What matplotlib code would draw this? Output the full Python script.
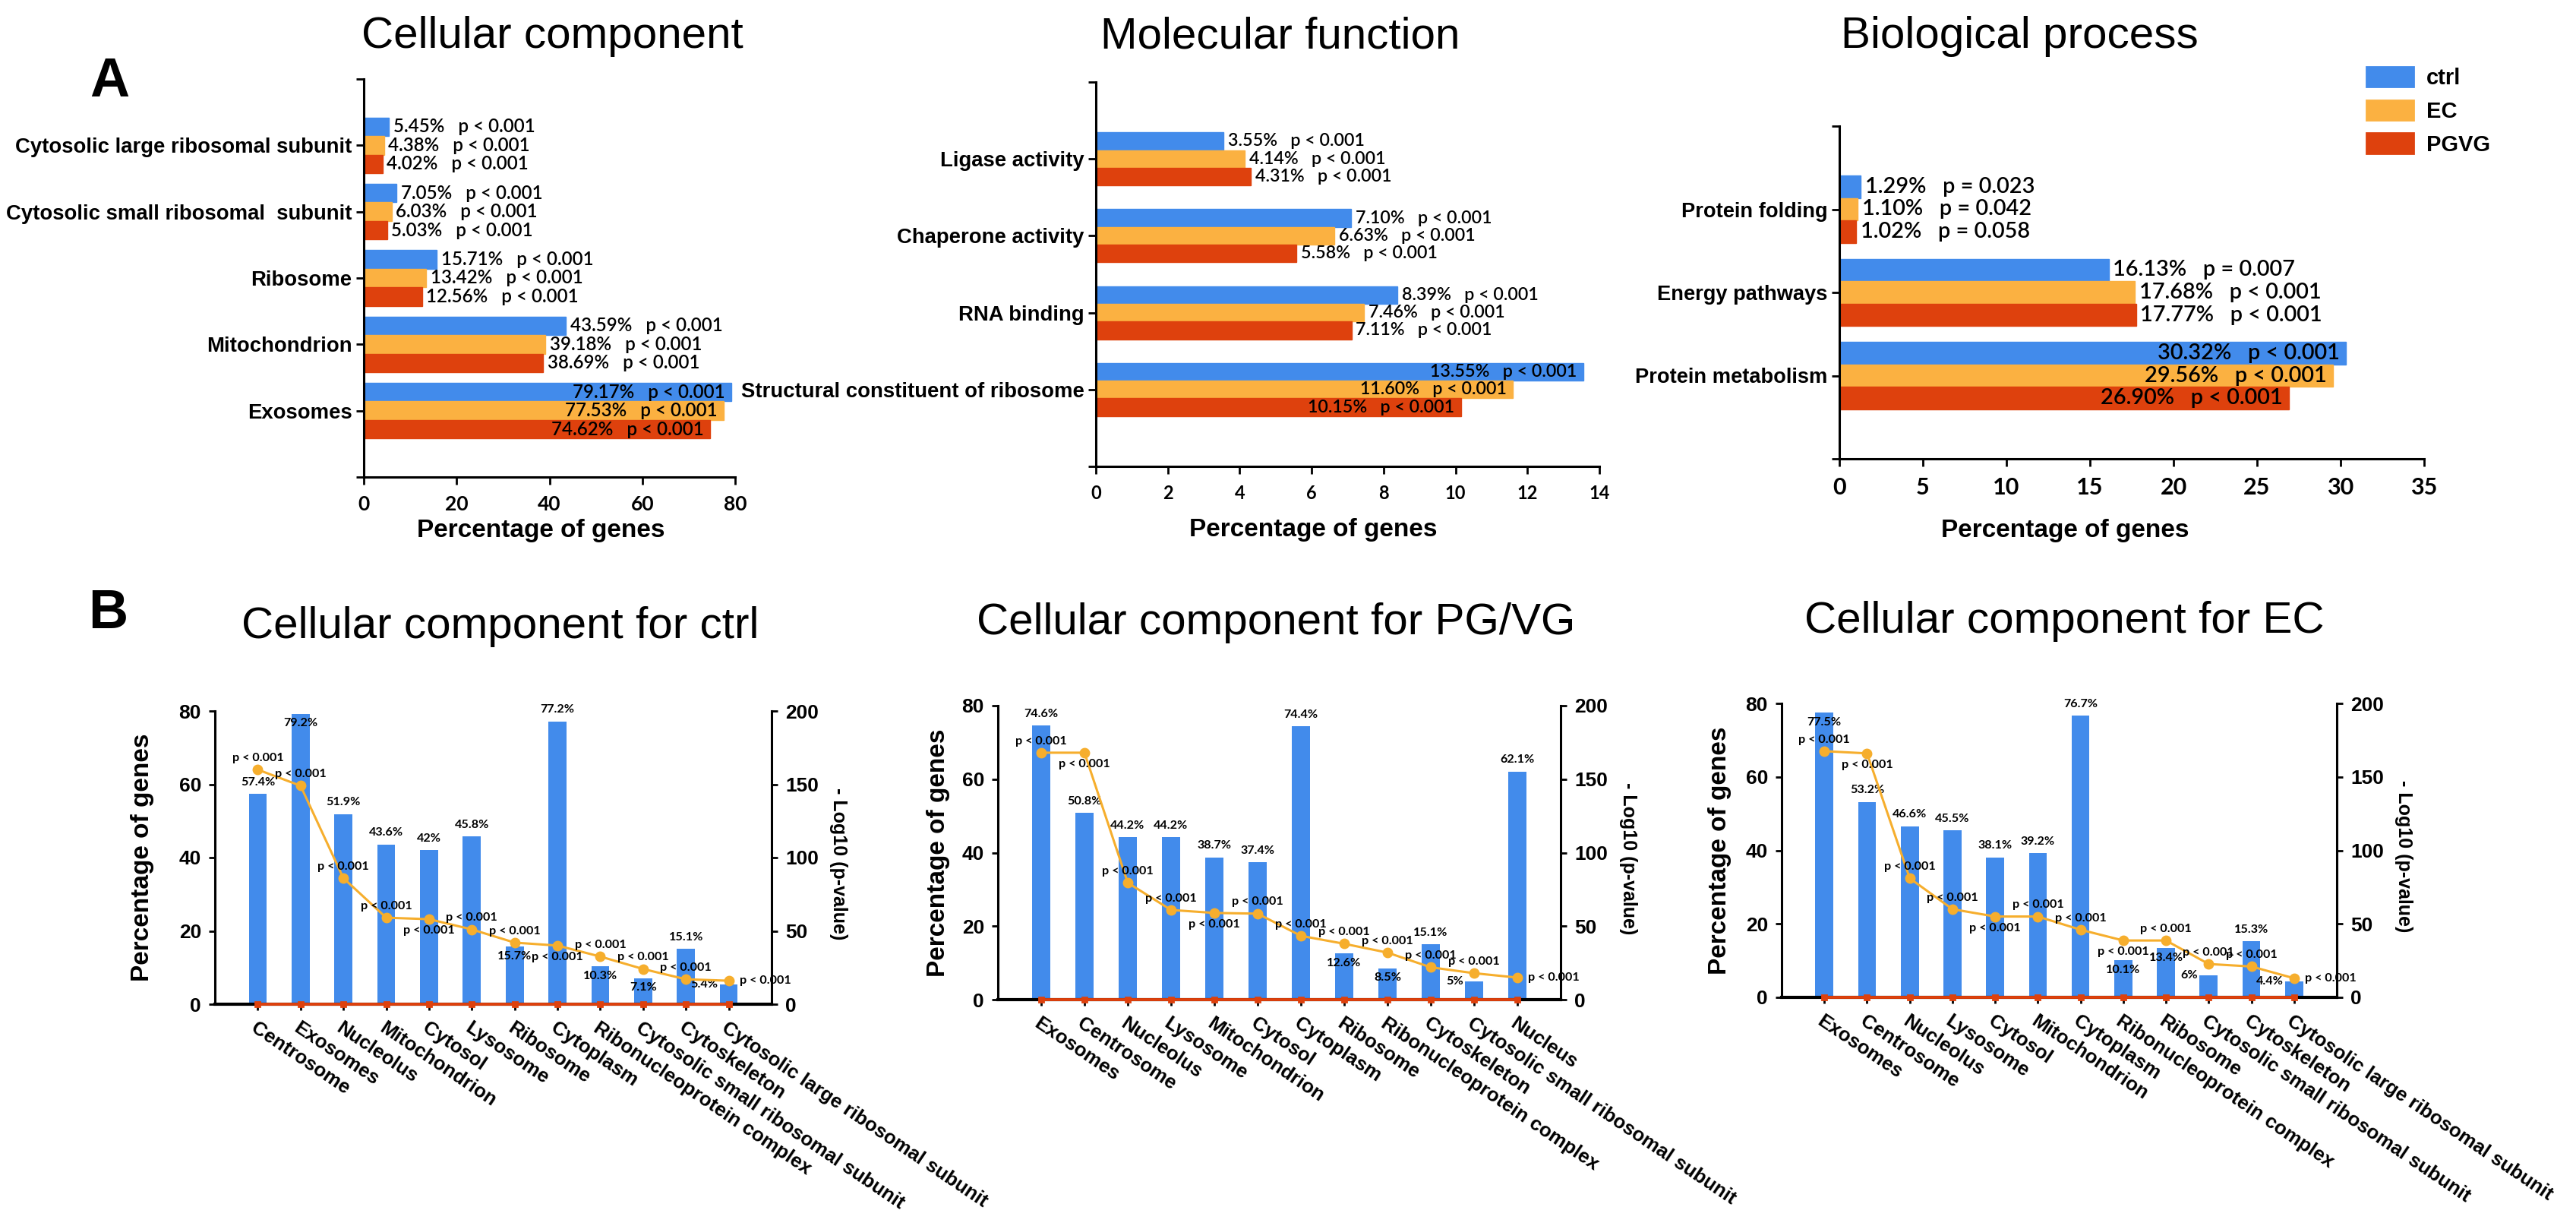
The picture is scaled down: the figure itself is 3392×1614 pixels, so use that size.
import numpy as np
import matplotlib.pyplot as plt
from matplotlib.patches import Patch

plt.rcParams['font.family'] = ['Liberation Sans', 'DejaVu Sans']

W, H = 3392, 1614
DPI = 200

C_CTRL = '#428BEB'
C_EC = '#FBB141'
C_PGVG = '#DE410D'
C_LINE = '#F6AE2D'

# ---------------- A: GO terms for the three groups ----------------
group_names = ['ctrl', 'EC', 'PGVG']

cc_terms = ['Cytosolic large ribosomal subunit', 'Cytosolic small ribosomal  subunit',
            'Ribosome', 'Mitochondrion', 'Exosomes']
cc_ctrl = [5.45, 7.05, 15.71, 43.59, 79.17]
cc_ec = [4.38, 6.03, 13.42, 39.18, 77.53]
cc_pgvg = [4.02, 5.03, 12.56, 38.69, 74.62]
cc_p_ctrl = ['< 0.001', '< 0.001', '< 0.001', '< 0.001', '< 0.001']
cc_p_ec = ['< 0.001', '< 0.001', '< 0.001', '< 0.001', '< 0.001']
cc_p_pgvg = ['< 0.001', '< 0.001', '< 0.001', '< 0.001', '< 0.001']

mf_terms = ['Ligase activity', 'Chaperone activity', 'RNA binding',
            'Structural constituent of ribosome']
mf_ctrl = [3.55, 7.10, 8.39, 13.55]
mf_ec = [4.14, 6.63, 7.46, 11.60]
mf_pgvg = [4.31, 5.58, 7.11, 10.15]
mf_p_ctrl = ['< 0.001', '< 0.001', '< 0.001', '< 0.001']
mf_p_ec = ['< 0.001', '< 0.001', '< 0.001', '< 0.001']
mf_p_pgvg = ['< 0.001', '< 0.001', '< 0.001', '< 0.001']

bp_terms = ['Protein folding', 'Energy pathways', 'Protein metabolism']
bp_ctrl = [1.29, 16.13, 30.32]
bp_ec = [1.10, 17.68, 29.56]
bp_pgvg = [1.02, 17.77, 26.90]
bp_p_ctrl = ['= 0.023', '= 0.007', '< 0.001']
bp_p_ec = ['= 0.042', '< 0.001', '< 0.001']
bp_p_pgvg = ['= 0.058', '< 0.001', '< 0.001']

# ---------------- B: cellular component per group ----------------
ctrl_terms = ['Centrosome', 'Exosomes', 'Nucleolus', 'Mitochondrion', 'Cytosol', 'Lysosome',
              'Ribosome', 'Cytoplasm', 'Ribonucleoprotein complex',
              'Cytosolic small ribosomal subunit', 'Cytoskeleton',
              'Cytosolic large ribosomal subunit']
ctrl_pct = [57.4, 79.2, 51.9, 43.6, 42, 45.8, 15.7, 77.2, 10.3, 7.1, 15.1, 5.4]
ctrl_logp = [160, 149, 86, 59, 58, 51, 42, 40, 32.5, 24, 17, 16]
ctrl_pval = [0.001, 0.001, 0.001, 0.001, 0.001, 0.001, 0.001, 0.001, 0.001, 0.001, 0.001, 0.001]

pgvg_terms = ['Exosomes', 'Centrosome', 'Nucleolus', 'Lysosome', 'Mitochondrion', 'Cytosol',
              'Cytoplasm', 'Ribosome', 'Ribonucleoprotein complex', 'Cytoskeleton',
              'Cytosolic small ribosomal subunit', 'Nucleus']
pgvg_pct = [74.6, 50.8, 44.2, 44.2, 38.7, 37.4, 74.4, 12.6, 8.5, 15.1, 5, 62.1]
pgvg_logp = [168, 168, 79.5, 61, 59, 58.5, 43.4, 38, 32, 22, 18, 15]
pgvg_pval = [0.001, 0.001, 0.001, 0.001, 0.001, 0.001, 0.001, 0.001, 0.001, 0.001, 0.001, 0.001]

ec_terms = ['Exosomes', 'Centrosome', 'Nucleolus', 'Lysosome', 'Cytosol', 'Mitochondrion',
            'Cytoplasm', 'Ribonucleoprotein complex', 'Ribosome',
            'Cytosolic small ribosomal subunit', 'Cytoskeleton',
            'Cytosolic large ribosomal subunit']
ec_pct = [77.5, 53.2, 46.6, 45.5, 38.1, 39.2, 76.7, 10.1, 13.4, 6, 15.3, 4.4]
ec_logp = [167.5, 166, 81, 60, 55, 55, 46, 38.7, 38.7, 22.7, 21, 13]
ec_pval = [0.001, 0.001, 0.001, 0.001, 0.001, 0.001, 0.001, 0.001, 0.001, 0.001, 0.001, 0.001]

# where the small labels sit (styling only)
ctrl_pct_pos = ['above', 'inside', 'above', 'above', 'above', 'above',
                'inside', 'above', 'inside', 'inside', 'above', 'left']
ctrl_p_pos = ['above', 'above', 'above', 'above', 'below', 'above',
              'above', 'below', 'above', 'above', 'above', 'right']
pgvg_pct_pos = ['above', 'above', 'above', 'above', 'above', 'above',
                'above', 'inside', 'inside', 'above', 'left', 'above']
pgvg_p_pos = ['above', 'below', 'above', 'above', 'below', 'above',
              'above', 'above', 'above', 'above', 'above', 'right']
ec_pct_pos = ['inside', 'above', 'above', 'above', 'above', 'above',
              'above', 'inside', 'inside', 'left', 'above', 'left']
ec_p_pos = ['above', 'below', 'above', 'above', 'below', 'above',
            'above', 'below', 'above', 'above', 'above', 'right']

fig = plt.figure(figsize=(W / DPI, H / DPI), dpi=DPI)


def px_axes(left, top, right, bottom):
    return fig.add_axes([left / W, 1 - bottom / H, (right - left) / W, (bottom - top) / H])


def fig_text(x, y, s, **kw):
    fig.text(x / W, 1 - y / H, s, **kw)


def hbar_panel(ax, terms, vals, pvals, xmax, step, bar_h, xlab_xy, fs_val, fs_term, fs_tick):
    n = len(terms)
    ypos = np.arange(n)[::-1]
    colors = [C_CTRL, C_EC, C_PGVG]
    for k, (v, p, c) in enumerate(zip(vals, pvals, colors)):
        yy = ypos + (1 - k) * bar_h
        ax.barh(yy, v, height=bar_h, color=c, edgecolor=c, linewidth=0.5)
        for y, val, pv in zip(yy, v, p):
            s = f'{val:.2f}%   p {pv}'
            if val > 0.7 * xmax:
                ax.annotate(s, (val, y), xytext=(-3, 0), textcoords='offset points',
                            ha='right', va='center', fontsize=fs_val, fontweight='semibold',
                            family=['Lato', 'DejaVu Sans'])
            else:
                ax.annotate(s, (val, y), xytext=(2, 0), textcoords='offset points',
                            ha='left', va='center', fontsize=fs_val, fontweight='semibold',
                            family=['Lato', 'DejaVu Sans'])
    ax.set_ylim(-1, n)
    ax.set_xlim(0, xmax)
    ax.set_xticks(np.arange(0, xmax + 0.01, step))
    ax.set_yticks(ypos)
    ax.set_yticklabels(terms, fontweight='bold', fontsize=fs_term)
    ax.set_yticks([-1, n], minor=True)
    for sp in ['top', 'right']:
        ax.spines[sp].set_visible(False)
    for sp in ['left', 'bottom']:
        ax.spines[sp].set_linewidth(1.1)
    ax.tick_params(axis='y', which='both', length=3.5, width=1, pad=2)
    ax.tick_params(axis='x', length=3.5, width=1, pad=5, labelsize=fs_tick)
    for t in ax.get_xticklabels():
        t.set_fontweight('bold')
        t.set_family(['Lato', 'DejaVu Sans'])
    ax.set_xlabel('Percentage of genes', fontsize=12, fontweight='bold')
    ax.xaxis.set_label_coords(*xlab_xy)
    ax.xaxis.label.set_va('center')


def place(ax, x, y, s, mode):
    if mode == 'above':
        off, ha, va = (0, 3), 'center', 'bottom'
    elif mode == 'below':
        off, ha, va = (0, -3), 'center', 'top'
    elif mode == 'inside':
        off, ha, va = (0, -2), 'center', 'top'
    elif mode == 'left':
        off, ha, va = (-5, 0), 'right', 'center'
    else:
        off, ha, va = (5, 0), 'left', 'center'
    ax.annotate(s, (x, y), xytext=off, textcoords='offset points', ha=ha, va=va,
                fontsize=5.8, fontweight='bold', family=['Lato', 'DejaVu Sans'], zorder=6)


def cc_panel(ax, terms, pct, logp, pval, pct_pos, p_pos, ylab_x):
    x = np.arange(len(terms))
    ax.bar(x, pct, width=0.42, color=C_CTRL, zorder=2)
    ax.plot(x, pval, color=C_PGVG, lw=1.4, marker='s', ms=2.5, zorder=4, clip_on=False)
    ax.set_xlim(-1, len(terms))
    ax.set_ylim(0, 80)
    ax.set_yticks([0, 20, 40, 60, 80])
    ax.set_xticks(x)
    ax.set_xticklabels(terms, rotation=-34, ha='left', rotation_mode='anchor',
                       fontweight='bold', fontsize=9.3)
    ax.tick_params(axis='x', length=3, width=1, pad=4)
    ax.tick_params(axis='y', length=3, width=1, labelsize=9.5)
    for t in ax.get_yticklabels():
        t.set_fontweight('bold')
    ax.spines['top'].set_visible(False)
    ax.spines['right'].set_visible(False)
    ax.spines['left'].set_linewidth(1.1)
    ax.spines['bottom'].set_linewidth(1.5)
    ax.set_ylabel('Percentage of genes', fontsize=12, fontweight='bold')
    ax.yaxis.set_label_coords(ylab_x, 0.5)
    for xi, v, m in zip(x, pct, pct_pos):
        place(ax, xi, v, f'{v:g}%', m)

    ax2 = ax.twinx()
    ax2.plot(x, logp, color=C_LINE, lw=1.1, marker='o', ms=4, zorder=5)
    ax2.set_ylim(0, 200)
    ax2.set_yticks([0, 50, 100, 150, 200])
    ax2.tick_params(axis='y', length=3, width=1, labelsize=9.5)
    for t in ax2.get_yticklabels():
        t.set_fontweight('bold')
    for sp in ['top', 'left', 'bottom']:
        ax2.spines[sp].set_visible(False)
    ax2.spines['right'].set_linewidth(1.1)
    ax2.set_ylabel('- Log10 (p-value)', fontsize=9, fontweight='bold', rotation=-90)
    ax2.yaxis.set_label_coords(1.12, 0.48)
    ax2.yaxis.label.set_va('center')
    for xi, v, m in zip(x, logp, p_pos):
        place(ax2, xi, v, 'p < 0.001', m)


# ---- panel A ----
ax1 = px_axes(479, 104, 968, 628)
hbar_panel(ax1, cc_terms, [cc_ctrl, cc_ec, cc_pgvg], [cc_p_ctrl, cc_p_ec, cc_p_pgvg],
           80, 20, 0.28, (0.476, -0.134), 8.7, 9.9, 9.5)
ax2 = px_axes(1443, 108, 2106, 614)
hbar_panel(ax2, mf_terms, [mf_ctrl, mf_ec, mf_pgvg], [mf_p_ctrl, mf_p_ec, mf_p_pgvg],
           14, 2, 0.23, (0.431, -0.166), 8.4, 9.9, 8.5)
ax3 = px_axes(2422, 166, 3192, 604)
hbar_panel(ax3, bp_terms, [bp_ctrl, bp_ec, bp_pgvg], [bp_p_ctrl, bp_p_ec, bp_p_pgvg],
           35, 5, 0.27, (0.386, -0.215), 10.4, 9.8, 11)

fig_text(727, 48, 'Cellular component', fontsize=21, ha='center', va='center')
fig_text(1686, 48, 'Molecular function', fontsize=21, ha='center', va='center')
fig_text(2659, 48, 'Biological process', fontsize=21, ha='center', va='center')
fig_text(144, 108, 'A', fontsize=26, fontweight='bold', ha='center', va='center')

handles = [Patch(color=c) for c in [C_CTRL, C_EC, C_PGVG]]
fig.legend(handles, group_names, loc='upper left', bbox_to_anchor=(3090 / W, 1 - 62 / H),
           frameon=False, handlelength=2.1, handleheight=1.0, labelspacing=0.5,
           handletextpad=0.6, prop={'weight': 'bold', 'size': 10.5})

# ---- panel B ----
bx1 = px_axes(283, 936, 1016, 1322)
cc_panel(bx1, ctrl_terms, ctrl_pct, ctrl_logp, ctrl_pval, ctrl_pct_pos, ctrl_p_pos, -0.109)
bx2 = px_axes(1314, 929, 2055, 1316)
cc_panel(bx2, pgvg_terms, pgvg_pct, pgvg_logp, pgvg_pval, pgvg_pct_pos, pgvg_p_pos, -0.085)
bx3 = px_axes(2346, 926, 3077, 1313)
cc_panel(bx3, ec_terms, ec_pct, ec_logp, ec_pval, ec_pct_pos, ec_p_pos, -0.090)

fig_text(659, 825, 'Cellular component for ctrl', fontsize=21, ha='center', va='center')
fig_text(1680, 820, 'Cellular component for PG/VG', fontsize=21, ha='center', va='center')
fig_text(2718, 818, 'Cellular component for EC', fontsize=21, ha='center', va='center')
fig_text(142, 808, 'B', fontsize=26, fontweight='bold', ha='center', va='center')

fig.savefig('out.png', dpi=DPI)
